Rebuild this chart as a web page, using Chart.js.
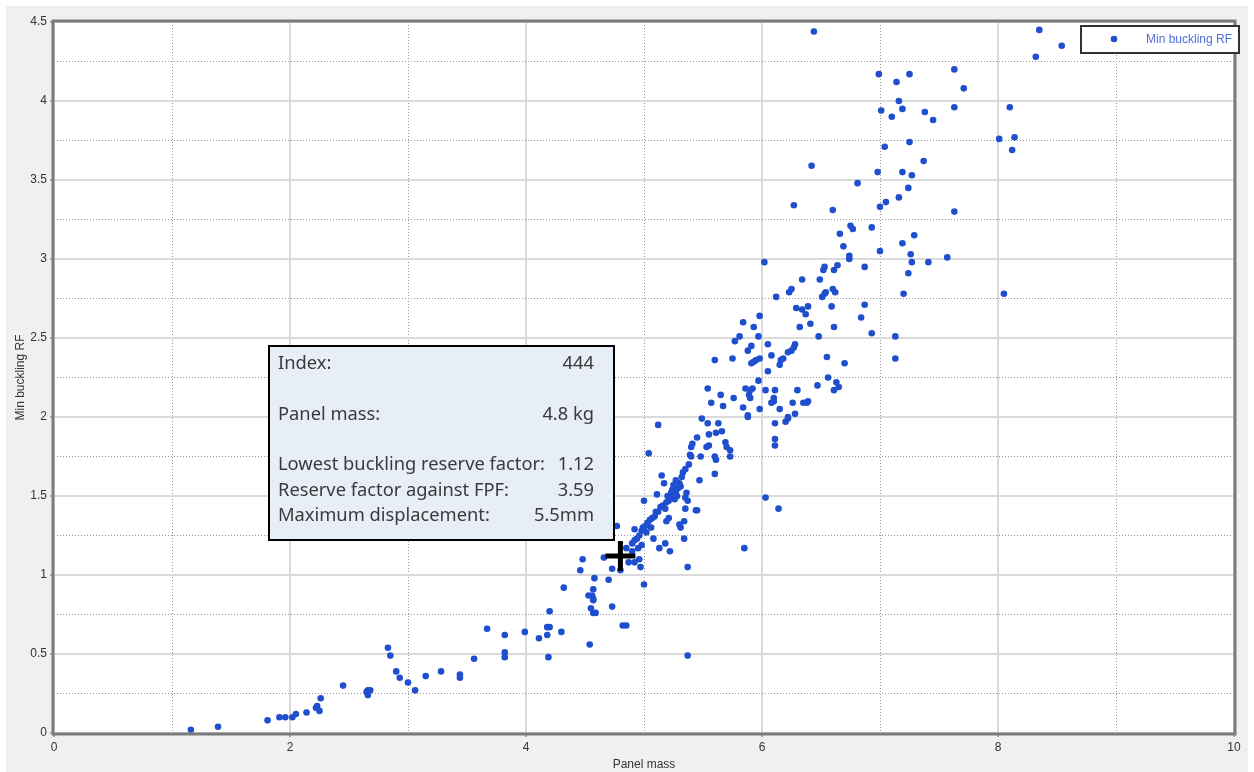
<!DOCTYPE html>
<html lang="en">
<head>
<meta charset="UTF-8">
<title>Min buckling RF vs Panel mass</title>
<script src="https://cdn.jsdelivr.net/npm/chart.js"></script>
<style>
  html, body { margin: 0; padding: 0; background: #fff; }
  #wrap { width: 1254px; height: 772px; }
</style>
</head>
<body>
<div id="wrap"><canvas id="scatter" width="1254" height="772"></canvas></div>
<script>
// design points (panel mass / min buckling RF)
const panelMass = [
  1.16, 1.39, 1.81, 1.91, 1.96, 2.02, 2.05, 2.14, 2.22, 2.23, 2.25, 2.26, 2.45, 2.65, 2.66, 2.66, 2.68,
  2.83, 2.85, 2.90, 2.93, 3.00, 3.06, 3.15, 3.28, 3.44, 3.44, 3.56, 3.67, 3.82, 3.82, 3.82, 3.99, 4.11,
  4.18, 4.18, 4.20, 4.19, 4.20, 4.30, 4.54, 4.55, 4.57, 4.57, 4.59, 4.73, 4.82, 4.85, 5.37,
  5.04, 5.41, 5.53, 5.55, 5.39, 5.40, 5.48, 5.60, 5.61, 5.38, 5.35, 5.60, 5.15, 5.17, 5.47, 5.25, 5.11,
  5.00, 5.36, 5.35, 5.37, 5.44, 5.45, 5.35, 5.21, 5.19, 5.30, 5.31, 5.34, 4.77, 4.92, 5.08, 5.13, 5.18,
  5.22, 5.34, 5.37, 4.48, 4.46, 4.66, 4.73, 4.80, 4.87, 4.92, 4.96, 4.97, 5.00, 4.58, 4.32, 4.70, 4.53,
  4.56, 4.57, 4.57,
  4.90, 4.94, 4.96, 4.98, 4.99, 5.01, 5.03, 5.05, 5.07, 5.09, 5.12, 5.14, 5.16, 5.19, 5.21, 5.22, 5.25,
  5.27, 5.29, 5.30, 5.32, 5.33, 5.26, 5.28, 5.23, 4.85, 4.90, 4.95, 4.98, 4.92, 5.24, 5.31, 5.27, 5.20,
  5.18, 5.10, 5.06, 5.02,
  5.98, 5.84, 5.93, 5.81, 5.77, 5.97, 5.91, 5.88, 6.05, 6.08, 6.22, 6.25, 6.16, 6.18, 6.15, 5.91, 5.93,
  5.95, 5.98, 5.75, 5.60, 6.05, 5.97, 5.86, 5.90, 5.92, 5.89, 5.90, 6.03, 6.11, 6.08, 6.10, 6.10, 6.26,
  6.15, 5.98, 5.84, 5.88, 5.88, 5.76, 5.54, 5.65, 5.57, 5.67, 5.49, 5.54, 5.63, 5.55, 5.61, 5.66, 5.45,
  5.69, 5.70, 5.73, 5.73, 5.12, 6.11, 6.11, 6.11, 6.20, 6.22, 6.03, 5.85, 6.14, 5.40,
  6.27, 6.60, 6.75, 6.77, 6.93, 6.66, 6.69, 6.74, 6.74, 6.02, 6.64, 6.61, 6.52, 6.53, 6.87, 6.49, 6.34,
  6.23, 6.25, 6.12, 6.54, 6.53, 6.60, 6.62, 6.51, 6.59, 6.87, 6.29, 6.34, 6.37, 6.39, 6.84, 6.41, 6.32,
  6.61, 6.93, 6.48, 6.28, 6.27, 6.55, 6.70, 6.56, 6.63, 6.65, 6.61, 6.47, 6.30, 6.39, 6.38, 6.35, 6.22,
  6.28,
  6.44, 6.99, 7.14, 7.25, 7.63, 7.16, 7.01, 7.10, 7.19, 7.38, 7.45, 7.63, 7.04, 7.25, 7.37, 6.42, 6.98,
  7.19, 7.27, 6.81, 7.24, 7.16, 7.05, 7.00, 7.63, 7.29, 7.19, 7.00, 7.26, 7.57, 7.27, 7.41, 7.24, 7.20,
  7.13, 7.13,
  7.71, 8.10, 8.01, 8.14, 8.12, 8.05, 8.35, 8.54, 8.32
];
const minBucklingRF = [
  0.02, 0.04, 0.08, 0.10, 0.10, 0.10, 0.12, 0.13, 0.16, 0.17, 0.14, 0.22, 0.30, 0.26, 0.24, 0.27, 0.27,
  0.54, 0.49, 0.39, 0.35, 0.32, 0.27, 0.36, 0.39, 0.37, 0.35, 0.47, 0.66, 0.62, 0.51, 0.48, 0.64, 0.60,
  0.62, 0.67, 0.67, 0.48, 0.77, 0.64, 0.56, 0.79, 0.84, 0.76, 0.76, 0.80, 0.68, 0.68, 0.49,
  1.77, 1.83, 1.81, 1.82, 1.76, 1.75, 1.75, 1.75, 1.73, 1.70, 1.67, 1.64, 1.63, 1.58, 1.60, 1.57, 1.51,
  1.47, 1.52, 1.49, 1.47, 1.41, 1.41, 1.42, 1.36, 1.34, 1.32, 1.30, 1.34, 1.31, 1.29, 1.23, 1.17, 1.20,
  1.15, 1.23, 1.05, 1.10, 1.03, 1.11, 1.04, 1.03, 1.08, 1.08, 1.10, 1.05, 0.94, 0.98, 0.92, 0.97, 0.87,
  0.87, 0.91, 0.85,
  1.20, 1.23, 1.25, 1.28, 1.30, 1.31, 1.33, 1.35, 1.36, 1.37, 1.40, 1.43, 1.44, 1.46, 1.47, 1.49, 1.51,
  1.53, 1.55, 1.58, 1.62, 1.65, 1.48, 1.50, 1.52, 1.17, 1.15, 1.17, 1.19, 1.22, 1.54, 1.56, 1.60, 1.50,
  1.42, 1.40, 1.30, 1.27,
  2.64, 2.60, 2.57, 2.51, 2.48, 2.51, 2.45, 2.42, 2.46, 2.39, 2.41, 2.42, 2.36, 2.37, 2.33, 2.34, 2.35,
  2.36, 2.37, 2.37, 2.36, 2.29, 2.23, 2.18, 2.17, 2.18, 2.14, 2.12, 2.17, 2.17, 2.09, 2.12, 2.10, 2.09,
  2.05, 2.05, 2.06, 2.01, 2.00, 2.12, 2.18, 2.14, 2.09, 2.07, 1.99, 1.96, 1.96, 1.89, 1.90, 1.91, 1.87,
  1.84, 1.81, 1.79, 1.75, 1.95, 1.96, 1.86, 1.82, 1.97, 1.99, 1.49, 1.17, 1.42, 1.81,
  3.34, 3.31, 3.21, 3.19, 3.20, 3.16, 3.08, 3.02, 3.00, 2.98, 2.96, 2.93, 2.93, 2.95, 2.95, 2.87, 2.87,
  2.79, 2.81, 2.76, 2.79, 2.78, 2.81, 2.79, 2.76, 2.70, 2.71, 2.69, 2.68, 2.65, 2.70, 2.63, 2.59, 2.57,
  2.57, 2.53, 2.51, 2.46, 2.44, 2.38, 2.34, 2.25, 2.22, 2.19, 2.17, 2.20, 2.17, 2.10, 2.09, 2.09, 2.00,
  2.02,
  4.44, 4.17, 4.12, 4.17, 4.20, 4.00, 3.94, 3.90, 3.95, 3.93, 3.88, 3.96, 3.71, 3.74, 3.62, 3.59, 3.55,
  3.55, 3.53, 3.48, 3.45, 3.39, 3.36, 3.33, 3.30, 3.15, 3.10, 3.05, 3.03, 3.01, 2.98, 2.98, 2.91, 2.78,
  2.51, 2.37,
  4.08, 3.96, 3.76, 3.77, 3.69, 2.78, 4.45, 4.35, 4.28
];

// the highlighted design (index 444)
const selectedMass = [4.8];
const selectedRF = [1.12];
const infoLabels = ['Index:', '', 'Panel mass:', '', 'Lowest buckling reserve factor:', 'Reserve factor against FPF:', 'Maximum displacement:'];
const infoValues = ['444', '', '4.8 kg', '', '1.12', '3.59', '5.5mm'];

const seriesLabel = 'Min buckling RF';
const dotColor = '#1f4fcf';

function isMinor(ctx, step) {
  if (!ctx.tick) return false;
  const k = Math.round(ctx.tick.value / step);
  return k % 2 !== 0;
}

const panelPlugin = {
  id: 'panel',
  beforeDraw(chart) {
    const { ctx, chartArea: a, width, height } = chart;
    ctx.save();
    ctx.fillStyle = '#ffffff';
    ctx.fillRect(0, 0, width, height);
    ctx.fillStyle = '#f0f0f0';
    ctx.fillRect(6, 6, width - 12, height - 6);
    ctx.fillStyle = '#ffffff';
    ctx.fillRect(a.left, a.top, a.right - a.left, a.bottom - a.top);
    ctx.restore();
  },
  afterDraw(chart) {
    const { ctx, chartArea: a } = chart;
    ctx.save();
    // plot frame
    ctx.strokeStyle = '#7b7b7b';
    ctx.lineWidth = 3;
    ctx.strokeRect(a.left - 1, a.top - 1, a.right - a.left + 2, a.bottom - a.top + 2);

    // info box
    ctx.fillStyle = '#e7eef8';
    ctx.fillRect(269, 346, 345, 194);
    ctx.strokeStyle = '#000';
    ctx.lineWidth = 2;
    ctx.strokeRect(269, 346, 345, 194);
    ctx.font = '18px "Noto Sans"';
    const sx = 267 / ctx.measureText(infoLabels[4]).width;
    ctx.translate(278, 0);
    ctx.scale(sx, 1);
    ctx.fillStyle = '#3a3a3a';
    ctx.textBaseline = 'middle';
    infoLabels.forEach((t, i) => {
      const y = 364 + i * 25.3;
      ctx.textAlign = 'left';
      ctx.fillText(t, 0, y);
      ctx.textAlign = 'right';
      ctx.fillText(infoValues[i], (594 - 278) / sx, y);
    });
    ctx.restore();

    // legend
    ctx.save();
    ctx.fillStyle = '#fff';
    ctx.fillRect(1081, 26, 158, 27);
    ctx.strokeStyle = '#333';
    ctx.lineWidth = 2;
    ctx.strokeRect(1081, 26, 158, 27);
    ctx.fillStyle = dotColor;
    ctx.beginPath();
    ctx.arc(1114, 39, 3.3, 0, Math.PI * 2);
    ctx.fill();
    ctx.font = '12px "Liberation Sans", Arial, sans-serif';
    ctx.fillStyle = '#4f70d8';
    ctx.textAlign = 'right';
    ctx.textBaseline = 'middle';
    ctx.fillText(seriesLabel, 1232, 40);
    ctx.restore();
  }
};

const points = panelMass.map((m, i) => ({ x: m, y: minBucklingRF[i] }));
const selected = selectedMass.map((m, i) => ({ x: m, y: selectedRF[i] }));

new Chart(document.getElementById('scatter'), {
  type: 'scatter',
  data: {
    datasets: [
      {
        label: 'Selected design',
        data: selected,
        pointStyle: 'cross',
        pointRadius: 15,
        borderColor: '#000',
        borderWidth: 5,
        order: 0
      },
      {
        label: seriesLabel,
        data: points,
        backgroundColor: dotColor,
        borderColor: dotColor,
        borderWidth: 0,
        pointRadius: 3.3,
        order: 1
      }
    ]
  },
  options: {
    responsive: false,
    animation: false,
    events: [],
    layout: { padding: { left: 0, top: 22, right: 13, bottom: 0 } },
    plugins: {
      legend: { display: false },
      tooltip: { enabled: false }
    },
    scales: {
      x: {
        type: 'linear',
        min: 0,
        max: 10,
        afterFit(scale) { scale.height = 39; },
        ticks: {
          stepSize: 1,
          autoSkip: false,
          maxRotation: 0,
          padding: 3,
          color: '#333',
          font: { family: '"Liberation Sans", Arial, sans-serif', size: 12 },
          callback: v => (v % 2 === 0 ? v : '')
        },
        grid: {
          color: ctx => (isMinor(ctx, 1) ? '#969696' : '#dadada'),
          lineWidth: ctx => (isMinor(ctx, 1) ? 1 : 2),
          tickColor: ctx => (isMinor(ctx, 1) ? 'rgba(0,0,0,0)' : '#666'),
          tickLength: 4,
          tickWidth: 1
        },
        border: {
          display: false,
          dash: ctx => (isMinor(ctx, 1) ? [1, 2] : [])
        },
        title: {
          display: true,
          text: 'Panel mass',
          color: '#333',
          font: { family: '"Liberation Sans", Arial, sans-serif', size: 12 },
          padding: { top: 5, bottom: 0 }
        }
      },
      y: {
        type: 'linear',
        min: 0,
        max: 4.5,
        afterFit(scale) { scale.width = 54; },
        ticks: {
          stepSize: 0.25,
          autoSkip: false,
          padding: 3,
          color: '#333',
          font: { family: '"Liberation Sans", Arial, sans-serif', size: 12 },
          callback: v => (Math.round(v * 4) % 2 === 0 ? v : '')
        },
        grid: {
          color: ctx => (isMinor(ctx, 0.25) ? '#969696' : '#dadada'),
          lineWidth: ctx => (isMinor(ctx, 0.25) ? 1 : 2),
          tickColor: ctx => (isMinor(ctx, 0.25) ? 'rgba(0,0,0,0)' : '#666'),
          tickLength: 4,
          tickWidth: 1
        },
        border: {
          display: false,
          dash: ctx => (isMinor(ctx, 0.25) ? [1, 2] : [])
        },
        title: {
          display: true,
          text: 'Min buckling RF',
          color: '#333',
          font: { family: '"Liberation Sans", Arial, sans-serif', size: 12 },
          padding: { top: 13, bottom: 0 }
        }
      }
    }
  },
  plugins: [panelPlugin]
});
</script>
</body>
</html>
